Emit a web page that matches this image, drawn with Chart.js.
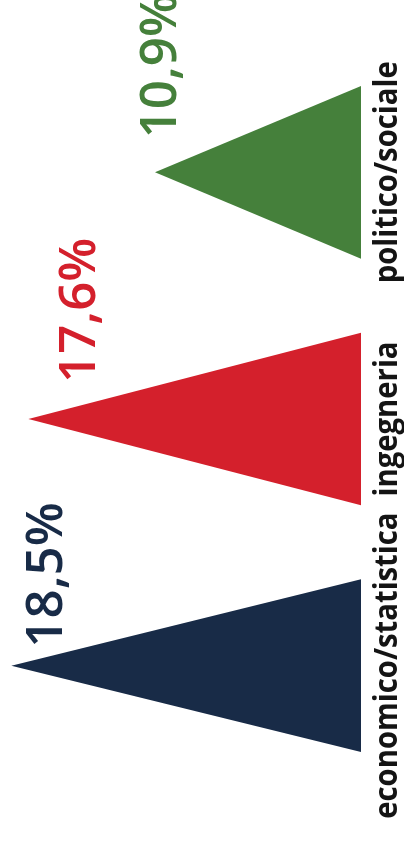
<!DOCTYPE html>
<html>
<head>
<meta charset="utf-8">
<script src="https://cdn.jsdelivr.net/npm/chart.js@4"></script>
<style>
  html, body { margin: 0; padding: 0; background: #fff; }
  #wrap { width: 404px; height: 841px; position: relative; }
</style>
</head>
<body>
<div id="wrap"><canvas id="chart"></canvas></div>
<script>
// the page is the chart turned on its side: categories from top to bottom
const categories = ['politico/sociale', 'ingegneria', 'economico/statistica'];
const shares = [10.9, 17.6, 18.5];
const valueLabels = ['10,9%', '17,6%', '18,5%'];
const colors = ['#45803B', '#D4202C', '#182B47'];

// small shifts for the value labels, relative to each apex
const labelNudge = [[21, -34], [67, -36], [51, -18]];

const trianglePlugin = {
    id: 'triangles',
    afterDatasetsDraw(chart) {
        const ctx = chart.ctx;
        const meta = chart.getDatasetMeta(0);
        meta.data.forEach((bar, i) => {
            const half = bar.height / 2;

            // triangle: base on the zero line, apex at the value
            ctx.save();
            ctx.fillStyle = colors[i];
            ctx.beginPath();
            ctx.moveTo(bar.base, bar.y - half);
            ctx.lineTo(bar.base, bar.y + half);
            ctx.lineTo(bar.x, bar.y);
            ctx.closePath();
            ctx.fill();
            ctx.restore();

            // category name, rotated, next to the base (squeezed a bit, the original face is narrow)
            ctx.save();
            ctx.translate(bar.base + 36, bar.y);
            ctx.rotate(-Math.PI / 2);
            ctx.scale(0.915, 1);
            ctx.font = "bold 32px 'Open Sans', sans-serif";
            ctx.fillStyle = '#141414';
            ctx.textAlign = 'center';
            ctx.textBaseline = 'alphabetic';
            ctx.fillText(categories[i], 0, 0);
            ctx.restore();

            // value, rotated, just above the apex
            ctx.save();
            ctx.translate(bar.x + labelNudge[i][0], bar.y + labelNudge[i][1]);
            ctx.rotate(-Math.PI / 2);
            ctx.font = "600 51px 'Open Sans', sans-serif";
            ctx.fillStyle = colors[i];
            ctx.textAlign = 'left';
            ctx.textBaseline = 'alphabetic';
            ctx.fillText(valueLabels[i], 0, 0);
            ctx.restore();
        });
    }
};

new Chart(document.getElementById('chart'), {
    type: 'bar',
    data: {
        labels: categories,
        datasets: [{
            data: shares,
            backgroundColor: 'rgba(0,0,0,0)',
            borderWidth: 0,
            barPercentage: 0.7,
            categoryPercentage: 1
        }]
    },
    options: {
        indexAxis: 'y',
        responsive: true,
        maintainAspectRatio: false,
        animation: false,
        layout: { padding: { left: 0, right: 43, top: 49, bottom: 52 } },
        scales: {
            x: { display: false, reverse: true, min: 0, max: 19.1 },
            y: { display: false }
        },
        plugins: {
            legend: { display: false },
            tooltip: { enabled: false }
        }
    },
    plugins: [trianglePlugin]
});
</script>
</body>
</html>
